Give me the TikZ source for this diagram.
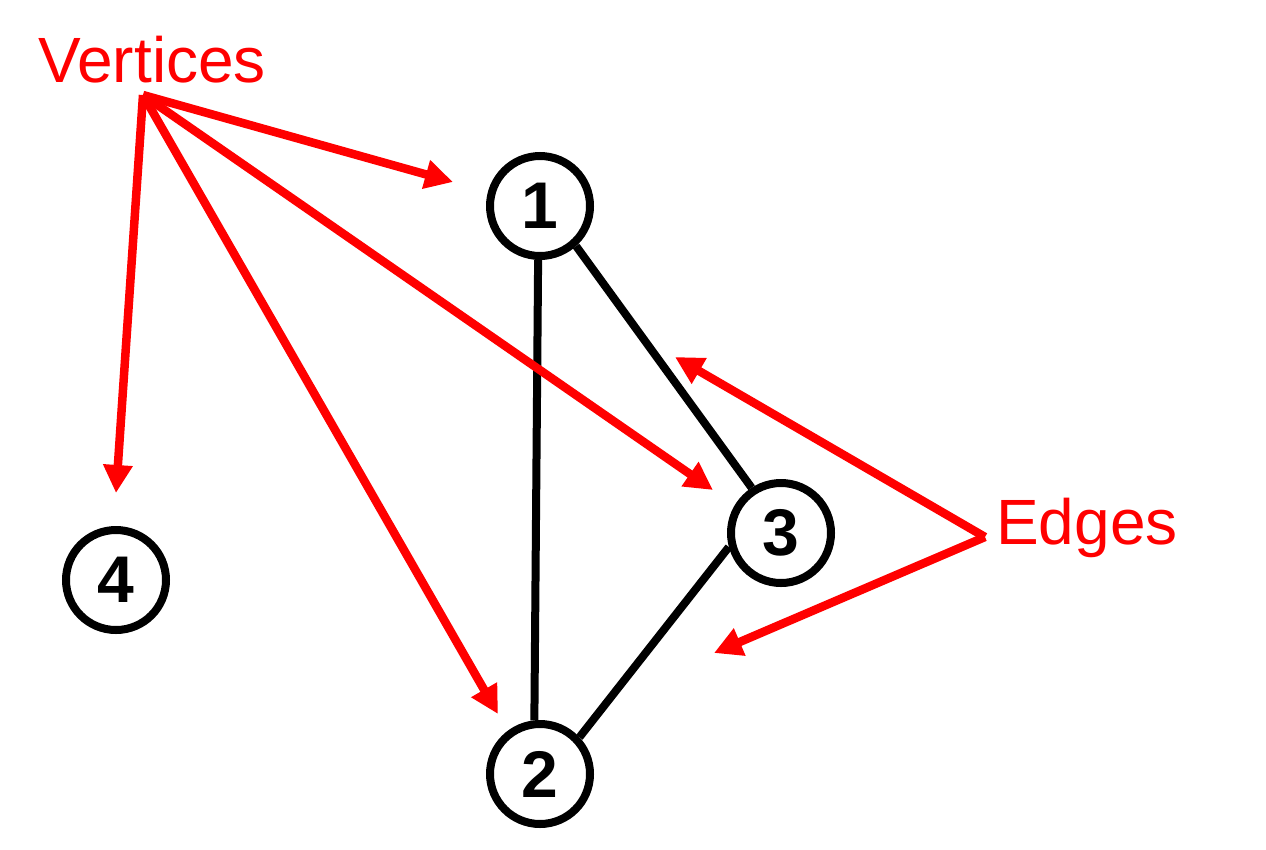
\documentclass[tikz,border=0pt]{standalone}
\usepackage{fontspec}
\setmainfont{Liberation Sans}
\usetikzlibrary{arrows.meta}
\definecolor{pred}{RGB}{255,0,0}
\tikzset{
  vertex/.style={circle, draw=black, line width=8pt, minimum size=100pt, inner sep=0pt,
    font=\fontsize{66}{66}\selectfont\bfseries},
  edgeline/.style={draw=black, line width=8pt},
  pointer/.style={draw=pred, line width=8.5pt, -{Triangle[length=28pt,width=28pt]}},
  lbl/.style={text=pred, inner sep=0pt, anchor=base west, font=\fontsize{64}{64}\selectfont}
}
\begin{document}
\begin{tikzpicture}[x=1pt,y=-1pt]
\useasboundingbox (0,0) rectangle (1266,849);
% vertices
\node[vertex] (n1) at (540,206) {1};
\node[vertex] (n2) at (540,774) {2};
\node[vertex] (n3) at (781,533) {3};
\node[vertex] (n4) at (116,580) {4};
% edges
\draw[edgeline] (n1.268) -- (n2.96);
\draw[edgeline] (n1.-48) -- (n3.123);
\draw[edgeline] (n3.195) -- (n2.43);
% labels
\node[lbl] (lv) at (38,82) {Vertices};
\node[lbl] (le) at (996,544) {Edges};
% pointer origins and tips
\coordinate (v) at (143,95);
\coordinate (e) at (985,537);
\coordinate (t1) at (453,182);
\coordinate (t2) at (498,714);
\coordinate (t3) at (713,490);
\coordinate (t4) at (116,493);
\coordinate (s1) at (675,357);
\coordinate (s2) at (714,653);
\draw[pointer] (v) -- (t1);
\draw[pointer] (v) -- (t3);
\draw[pointer] (v) -- (t2);
\draw[pointer] (v) -- (t4);
\draw[pointer] (e) -- (s1);
\draw[pointer] (e) -- (s2);
\end{tikzpicture}
\end{document}
